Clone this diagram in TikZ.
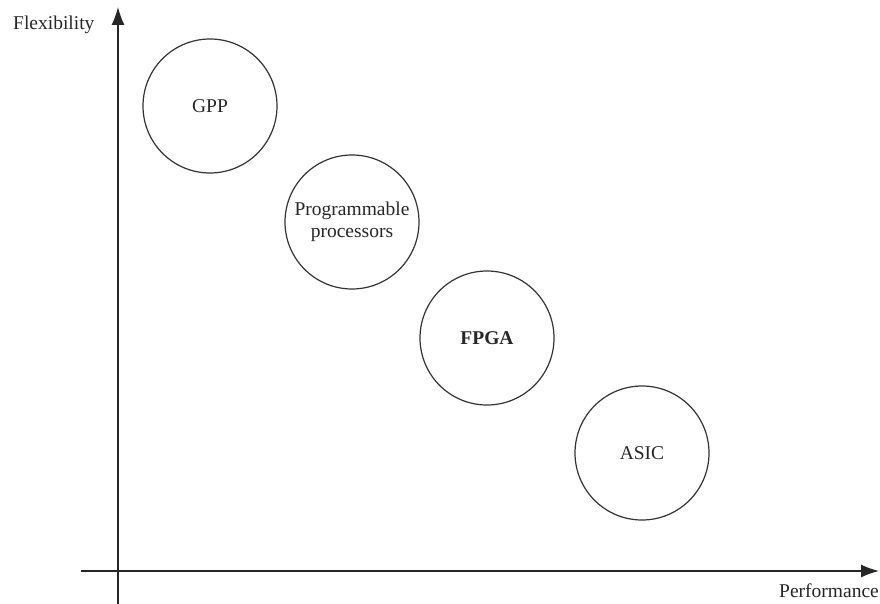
\documentclass[tikz,border=0pt]{standalone}
\usepackage{fontspec}
\setmainfont{Liberation Serif}
\usetikzlibrary{arrows.meta}
\begin{document}
\begin{tikzpicture}[x=1pt,y=-1pt,
  axis/.style={line width=1.4pt,draw=black!85,-{Latex[length=18pt,width=13pt]}},
  tech/.style={circle,draw=black!80,line width=1.2pt,minimum size=134pt,inner sep=0pt,
    align=center,font=\fontsize{19.5}{21.5}\selectfont,text=black!85},
  axlabel/.style={inner sep=0pt,font=\fontsize{19.5}{21.5}\selectfont,text=black!85}]
\useasboundingbox (0,0) rectangle (880,604);
% axes
\coordinate (yfoot) at (118,604);
\coordinate (ytip) at (118,7);
\coordinate (xfoot) at (81,571);
\coordinate (xtip) at (879,571);
\draw[axis] (yfoot) -- (ytip);
\draw[axis] (xfoot) -- (xtip);
\node[axlabel,anchor=base west] (flex) at (13,30) {Flexibility};
\node[axlabel,anchor=base east] (perf) at (879,597) {Performance};
% technology classes
\node[tech] (gpp) at (210,106) {GPP};
\node[tech] (pp) at (352,222) {Programmable\\processors};
\node[tech,font=\fontsize{19.5}{21.5}\selectfont\bfseries] (fpga) at (487,338) {FPGA};
\node[tech] (asic) at (642,453) {ASIC};
\end{tikzpicture}
\end{document}
